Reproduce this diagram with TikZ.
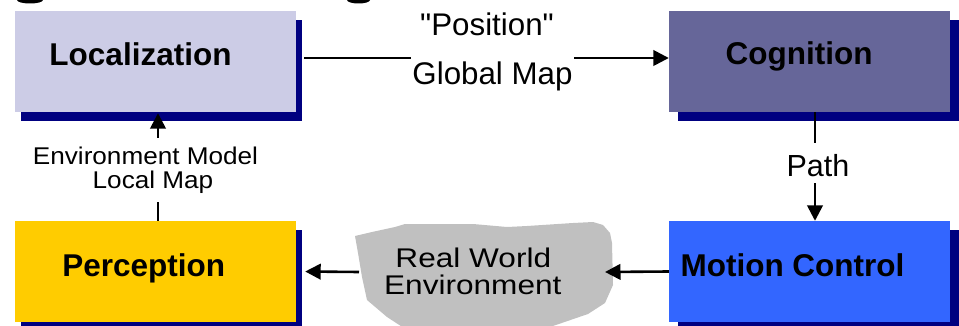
\documentclass[tikz,border=0pt]{standalone}
\usepackage{fontspec}
\setmainfont{Liberation Sans}[Ligatures=TeXOff]
\newfontfamily\envfont[FakeStretch=1.08]{Liberation Sans}
\newfontfamily\cloudfont[FakeStretch=1.17]{Liberation Sans}
\usetikzlibrary{arrows.meta,calc,shadows}
\definecolor{locfill}{RGB}{204,204,230}
\definecolor{cogfill}{RGB}{102,102,153}
\definecolor{perfill}{RGB}{255,204,0}
\definecolor{mcfill}{RGB}{51,102,255}
\definecolor{shadowblue}{RGB}{0,0,128}
\definecolor{cloudgray}{RGB}{192,192,192}
\begin{document}
\begin{tikzpicture}[x=1pt,y=-1pt,
  box/.style={rectangle, inner sep=0pt, minimum width=281pt, minimum height=101pt},
  lshadow/.style={drop shadow={shadow xshift=6pt,shadow yshift=-9pt,fill=shadowblue,opacity=1}},
  rshadow/.style={drop shadow={shadow xshift=9pt,shadow yshift=-9pt,fill=shadowblue,opacity=1}},
  boxtext/.style={font=\fontsize{31.5}{36}\selectfont\bfseries, anchor=base, inner sep=0pt},
  lbl/.style={font=\fontsize{31.3}{36}\selectfont, anchor=base, inner sep=0pt},
  envlbl/.style={font=\envfont\fontsize{24.2}{24}\selectfont, anchor=base, inner sep=0pt, fill=white},
  cloudlbl/.style={font=\cloudfont\fontsize{27}{27}\selectfont, anchor=base, inner sep=0pt},
  conn/.style={line width=2.6pt, -{Triangle[length=15.5pt,width=15.5pt]}},
]
\useasboundingbox (0,0) rectangle (959,326);
\clip (0,0) rectangle (959,326);

% fragments of the cut-off title
\fill (30,0) ellipse [x radius=13, y radius=3.5];
\fill (358.5,0) ellipse [x radius=11.5, y radius=3.5];

% boxes
\node[box, fill=locfill, lshadow] (loc) at (155.5,61.5) {};
\node[box, fill=cogfill, rshadow] (cog) at (809.5,61.5) {};
\node[box, fill=perfill, lshadow] (per) at (155.5,271.5) {};
\node[box, fill=mcfill, rshadow] (mc) at (809.5,271.5) {};

\node[boxtext] (loct) at (140.5,66) {Localization};
\node[boxtext] (cogt) at (799,65) {Cognition};
\node[boxtext] (pert) at (143.8,276.7) {Perception};
\node[boxtext] (mct) at (792.5,276.7) {Motion Control};

% cloud
\fill[cloudgray] (355,236) -- (372,232) -- (395,227) -- (405,224) -- (473,224)
  -- (507,227) -- (527,226) -- (573,223) -- (593,222) -- (603,225) -- (610,233)
  -- (612,243) -- (613,285) -- (605,303) -- (588,314) -- (553,326) -- (540,332)
  -- (410,332) -- (387,317) -- (367,300) -- (362,277) -- (358,253) -- cycle;
\node[cloudlbl] (rw1) at (473.3,267.3) {Real World};
\node[cloudlbl] (rw2) at (472.8,294.3) {Environment};
\coordinate (rwR) at (605,272);
\coordinate (rwL) at (359,272);

% connectors
\draw[conn] ($(loc.east)+(8,-3.5)$) -- ($(cog.west)+(0,-3.5)$);
\node[lbl] (pos) at (487,36) {"Position"};
\node[lbl, fill=white, inner xsep=1pt, text height=30pt] (gm) at (492.5,85) {Global Map};

\draw[conn] ($(cog.south)+(5.5,0)$) -- ($(mc.north)+(5.5,0)$);
\node[lbl, font=\fontsize{30.5}{36}\selectfont, fill=white, text height=33pt, text depth=7pt] (path) at (818,176) {Path};

\draw[conn] (mc.west) -- (rwR);
\draw[conn] (rwL) -- ($(per.east)+(9,0)$);

\draw[conn] ($(per.north)+(2.5,0)$) -- ($(loc.south)+(2.5,1)$);
\node[envlbl, text height=27pt, text depth=6pt] (envm) at (145.5,165) {Environment Model};
\node[envlbl, text height=18pt, text depth=14pt] (lmap) at (153,188.3) {Local Map};
\end{tikzpicture}
\end{document}
